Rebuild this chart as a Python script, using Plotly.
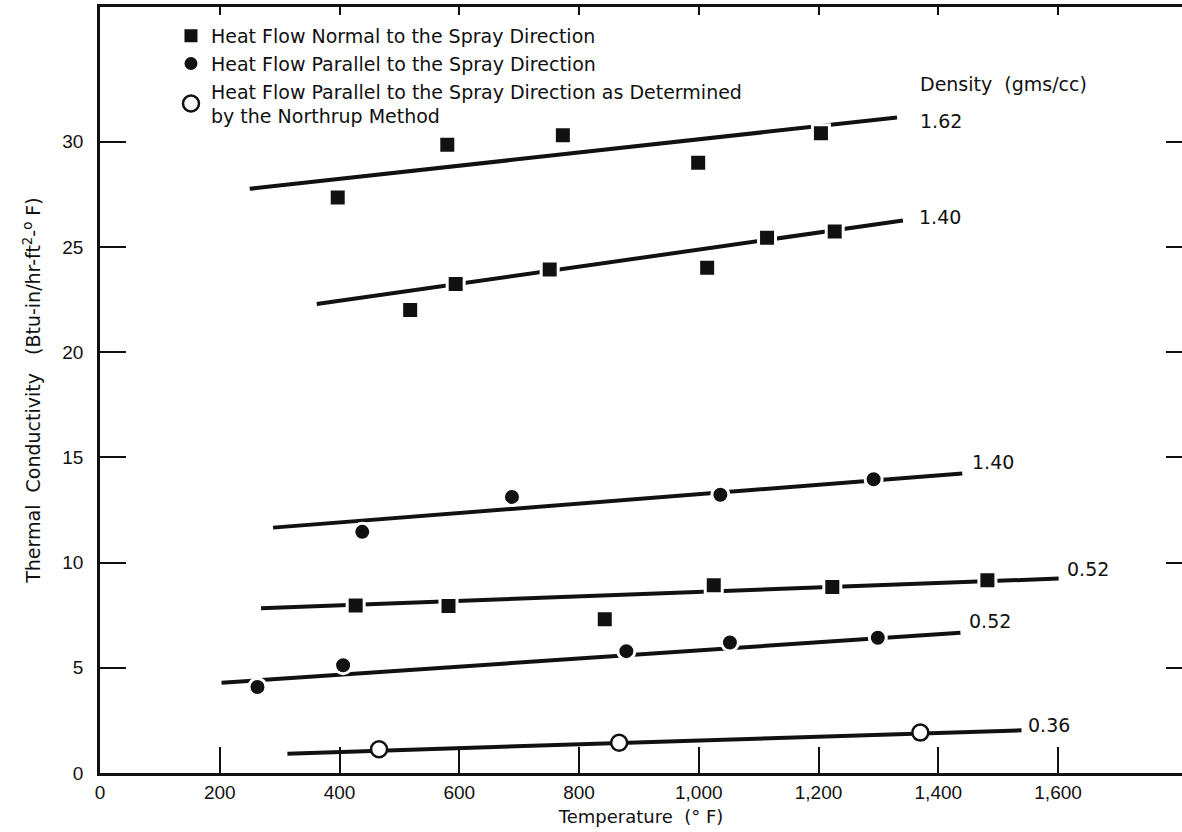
import plotly.graph_objects as go

# ---------------- data ----------------
# Heat flow normal to spray direction, density 1.62 gms/cc
n162_temp = [397, 580, 773, 999, 1204]
n162_k = [27.35, 29.85, 30.3, 29.0, 30.4]
n162_fit_temp = [250, 1331]
n162_fit_k = [27.76, 31.15]

# Heat flow normal to spray direction, density 1.40
n140_temp = [518, 594, 751, 1014, 1114, 1227]
n140_k = [22.0, 23.24, 23.93, 24.01, 25.43, 25.73]
n140_fit_temp = [362, 1341]
n140_fit_k = [22.29, 26.25]

# Heat flow parallel to spray direction, density 1.40
p140_temp = [438, 688, 1036, 1292]
p140_k = [11.46, 13.12, 13.22, 13.96]
p140_fit_temp = [289, 1440]
p140_fit_k = [11.66, 14.23]

# Heat flow normal to spray direction, density 0.52
n052_temp = [427, 582, 843, 1025, 1223, 1482]
n052_k = [7.96, 7.93, 7.31, 8.92, 8.84, 9.16]
n052_fit_temp = [269, 1601]
n052_fit_k = [7.83, 9.24]

# Heat flow parallel to spray direction, density 0.52
p052_temp = [263, 406, 879, 1052, 1299]
p052_k = [4.09, 5.12, 5.79, 6.2, 6.43]
p052_fit_temp = [203, 1437]
p052_fit_k = [4.29, 6.67]

# Northrup method, parallel, density 0.36
nm036_temp = [466, 867, 1370]
nm036_k = [1.13, 1.44, 1.92]
nm036_fit_temp = [313, 1539]
nm036_fit_k = [0.92, 2.03]

density_labels = ["1.62", "1.40", "1.40", "0.52", "0.52", "0.36"]
density_label_temp = [1366, 1364, 1453, 1611, 1448, 1546]
density_label_k = [31.0, 26.4, 14.76, 9.71, 7.23, 2.28]

x_tickvals = [0, 200, 400, 600, 800, 1000, 1200, 1400, 1600]
x_ticktext = ["0", "200", "400", "600", "800", "1,000", "1,200", "1,400", "1,600"]
y_tickvals = [0, 5, 10, 15, 20, 25, 30]
y_ticktext = ["0", "5", "10", "15", "20", "25", "30"]

legend_names = [
    "Heat Flow Normal to the Spray Direction",
    "Heat Flow Parallel to the Spray Direction",
    "Heat Flow Parallel to the Spray Direction as Determined<br>by the Northrup Method",
]

# ---------------- styling ----------------
TEXT_FONT = "DejaVu Sans"
NUM_FONT = "Liberation Sans"
BLACK = "#111111"

fig = go.Figure()

fits = [
    (n162_fit_temp, n162_fit_k),
    (n140_fit_temp, n140_fit_k),
    (p140_fit_temp, p140_fit_k),
    (n052_fit_temp, n052_fit_k),
    (p052_fit_temp, p052_fit_k),
    (nm036_fit_temp, nm036_fit_k),
]
for fx, fy in fits:
    fig.add_trace(go.Scatter(x=fx, y=fy, mode="lines",
                             line=dict(color=BLACK, width=4),
                             showlegend=False, hoverinfo="skip"))

square = dict(symbol="square", size=17, color=BLACK, line=dict(color="white", width=3))
dot = dict(symbol="circle", size=17, color=BLACK, line=dict(color="white", width=3))
ring = dict(symbol="circle", size=16, color="white", line=dict(color=BLACK, width=2.5))

marker_sets = [
    (n162_temp, n162_k, square, "sq", True, legend_names[0]),
    (n140_temp, n140_k, square, "sq", False, legend_names[0]),
    (n052_temp, n052_k, square, "sq", False, legend_names[0]),
    (p140_temp, p140_k, dot, "ci", True, legend_names[1]),
    (p052_temp, p052_k, dot, "ci", False, legend_names[1]),
    (nm036_temp, nm036_k, ring, "op", True, legend_names[2]),
]
for mx, my, mk, grp, show, name in marker_sets:
    fig.add_trace(go.Scatter(x=mx, y=my, mode="markers", marker=mk,
                             name=name, legendgroup=grp, showlegend=show))

# dummy trace for top / right tick axes
fig.add_trace(go.Scatter(x=[None], y=[None], xaxis="x2", yaxis="y2",
                         showlegend=False, hoverinfo="skip"))

for txt, lx, ly in zip(density_labels, density_label_temp, density_label_k):
    fig.add_annotation(x=lx, y=ly, text=txt, showarrow=False, xanchor="left",
                       yanchor="middle", font=dict(family=TEXT_FONT, size=19, color=BLACK))

fig.add_annotation(x=1366, y=32.76, text="Density  (gms/cc)", showarrow=False,
                   xanchor="left", yanchor="middle",
                   font=dict(family=TEXT_FONT, size=19, color=BLACK))

fig.add_annotation(xref="paper", yref="paper", x=-0.063, y=0.5,
                   text="Thermal  Conductivity   (Btu-in/hr-ft<sup>2</sup>-<sup>o</sup> F)",
                   textangle=-90, showarrow=False, xanchor="center", yanchor="middle",
                   font=dict(family=TEXT_FONT, size=19, color=BLACK))

fig.update_layout(
    width=1182, height=832,
    margin=dict(l=100, r=0, t=7, b=59),
    paper_bgcolor="white", plot_bgcolor="white",
    showlegend=True,
    legend=dict(x=0.0656, y=0.987, xanchor="left", yanchor="top",
                font=dict(family=TEXT_FONT, size=19, color=BLACK),
                bgcolor="rgba(0,0,0,0)", tracegroupgap=0),
    xaxis=dict(range=[0, 1807], tickvals=x_tickvals, ticktext=x_ticktext,
               ticks="inside", ticklen=26, tickwidth=2, tickcolor=BLACK,
               showline=True, linewidth=2.5, linecolor=BLACK,
               showgrid=False, zeroline=False,
               tickfont=dict(family=NUM_FONT, size=19, color=BLACK),
               title=dict(text="Temperature  (° F)", standoff=9,
                          font=dict(family=TEXT_FONT, size=18, color=BLACK))),
    xaxis2=dict(range=[0, 1807], overlaying="x", side="top",
                tickvals=x_tickvals[1:], ticks="inside", ticklen=8, tickwidth=2,
                tickcolor=BLACK, showticklabels=False, showline=True,
                linewidth=2.5, linecolor=BLACK, showgrid=False, zeroline=False),
    yaxis=dict(range=[0, 36.4], tickvals=y_tickvals, ticktext=y_ticktext,
               ticks="inside", ticklen=26, tickwidth=2, tickcolor=BLACK,
               showline=True, linewidth=2.5, linecolor=BLACK,
               showgrid=False, zeroline=False, ticklabelstandoff=10,
               tickfont=dict(family=NUM_FONT, size=19, color=BLACK)),
    yaxis2=dict(range=[0, 36.4], overlaying="y", side="right",
                tickvals=y_tickvals[1:], ticks="inside", ticklen=16, tickwidth=2,
                tickcolor=BLACK, showticklabels=False, showline=False,
                showgrid=False, zeroline=False),
)

fig.write_html("out.html")
